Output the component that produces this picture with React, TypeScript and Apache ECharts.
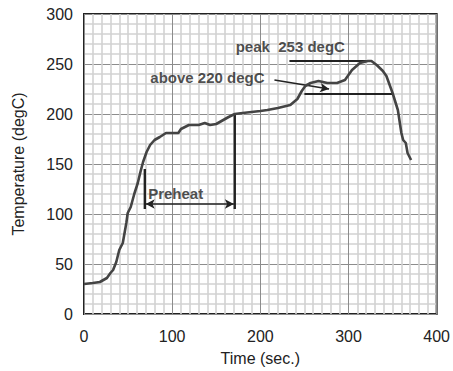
import React, { useEffect, useRef } from "react";
import * as echarts from "echarts";

const timeSec = [0, 10, 18, 22, 26, 30, 33, 36.6, 40, 44, 48, 49.6, 53, 57, 61, 64, 67, 71, 75, 80, 86, 93, 100, 107, 110, 119, 130, 137, 143, 150, 156, 164, 171, 180, 190, 200, 208, 220, 234, 242, 247, 251, 257, 266, 276, 287, 296, 304, 313, 322, 326, 332, 339, 343, 350, 356, 360, 362, 365, 367, 371];
const tempC = [30, 31, 32, 34, 36, 41, 44, 52, 64, 71, 91, 101, 107, 120, 131, 142, 152, 162, 169, 174, 177, 181, 181, 181, 185, 189, 189, 191, 189, 190, 193, 197, 200, 201, 202, 203, 204, 206, 209, 215, 223, 228, 231, 233, 231, 231, 234, 244, 251, 253, 253, 249, 243, 238, 221, 204, 181, 174, 171, 161, 154];

const preheatStart = [[69, 145], [69, 105]];
const preheatEnd = [[171, 200], [171, 105]];
const preheatArrow = [[70, 110], [170, 110]];
const peakLine = [[233, 253], [323, 253]];
const above220Line = [[250, 220], [351, 220]];
const above220Arrow = [[216, 234], [278, 225]];

const labels = [
  { text: "Preheat", pos: [104, 121] },
  { text: "peak  253 degC", pos: [234, 268] },
  { text: "above 220 degC", pos: [140, 237] },
];

const FONT = "Liberation Sans, Arial, sans-serif";
const INK = "#222";

export default function App() {
  const ref = useRef<HTMLDivElement>(null);
  useEffect(() => {
    if (!ref.current) return;
    const chart = echarts.init(ref.current, undefined, { renderer: "svg" });
    const segment = (data: number[][], width: number) => ({
      type: "line",
      data,
      symbol: "none",
      silent: true,
      lineStyle: { color: INK, width },
      z: 4,
    });
    const arrow = (pts: number[][], both: boolean) => ({
      type: "line",
      data: [],
      silent: true,
      markLine: {
        silent: true,
        animation: false,
        symbol: both ? ["arrow", "arrow"] : ["none", "arrow"],
        symbolSize: [7, 9],
        label: { show: false },
        lineStyle: { color: INK, width: 1.6, type: "solid" },
        data: [[{ coord: pts[0] }, { coord: pts[1] }]],
      },
    });
    chart.setOption({
      animation: false,
      grid: {
        left: 84,
        right: 11,
        top: 14,
        bottom: 56,
        show: true,
        borderColor: INK,
        borderWidth: 2,
        backgroundColor: "#fff",
      },
      xAxis: {
        type: "value",
        min: 0,
        max: 400,
        interval: 100,
        name: "Time (sec.)",
        nameLocation: "middle",
        nameGap: 36,
        nameTextStyle: { fontFamily: FONT, fontSize: 16, color: INK },
        axisLine: { show: false },
        axisTick: { show: false },
        axisLabel: { fontFamily: FONT, fontSize: 16, color: INK, margin: 14 },
        splitLine: { show: true, lineStyle: { color: "#8c8c8c", width: 1 } },
        minorTick: { show: false, splitNumber: 10 },
        minorSplitLine: { show: true, lineStyle: { color: "#d2d2d2", width: 1.6 } },
      },
      yAxis: {
        type: "value",
        min: 0,
        max: 300,
        interval: 50,
        name: "Temperature (degC)",
        nameLocation: "middle",
        nameGap: 58,
        nameTextStyle: { fontFamily: FONT, fontSize: 16, color: INK },
        axisLine: { show: false },
        axisTick: { show: false },
        axisLabel: { fontFamily: FONT, fontSize: 16, color: INK, margin: 11 },
        splitLine: { show: true, lineStyle: { color: "#8c8c8c", width: 1 } },
        minorTick: { show: false, splitNumber: 5 },
        minorSplitLine: { show: true, lineStyle: { color: "#d2d2d2", width: 1.6 } },
      },
      series: [
        {
          type: "line",
          data: timeSec.map((t, i) => [t, tempC[i]]),
          symbol: "none",
          lineStyle: { color: "#444", width: 2.6 },
          z: 5,
        },
        segment(preheatStart, 2.4),
        segment(preheatEnd, 2.4),
        segment(peakLine, 2),
        segment(above220Line, 2),
        arrow(preheatArrow, true),
        arrow(above220Arrow, false),
        {
          type: "scatter",
          symbolSize: 0,
          silent: true,
          data: labels.map((l) => ({ value: l.pos, name: l.text })),
          label: {
            show: true,
            position: "inside",
            align: "center",
            verticalAlign: "middle",
            formatter: (p: any) => p.name,
            fontFamily: FONT,
            fontSize: 15,
            fontWeight: "bold",
            color: INK,
          },
          z: 6,
        },
      ],
    });
    return () => chart.dispose();
  }, []);
  return (
    <div
      ref={ref}
      style={{ position: "absolute", left: 0, top: 0, width: 453, height: 371 }}
    />
  );
}
